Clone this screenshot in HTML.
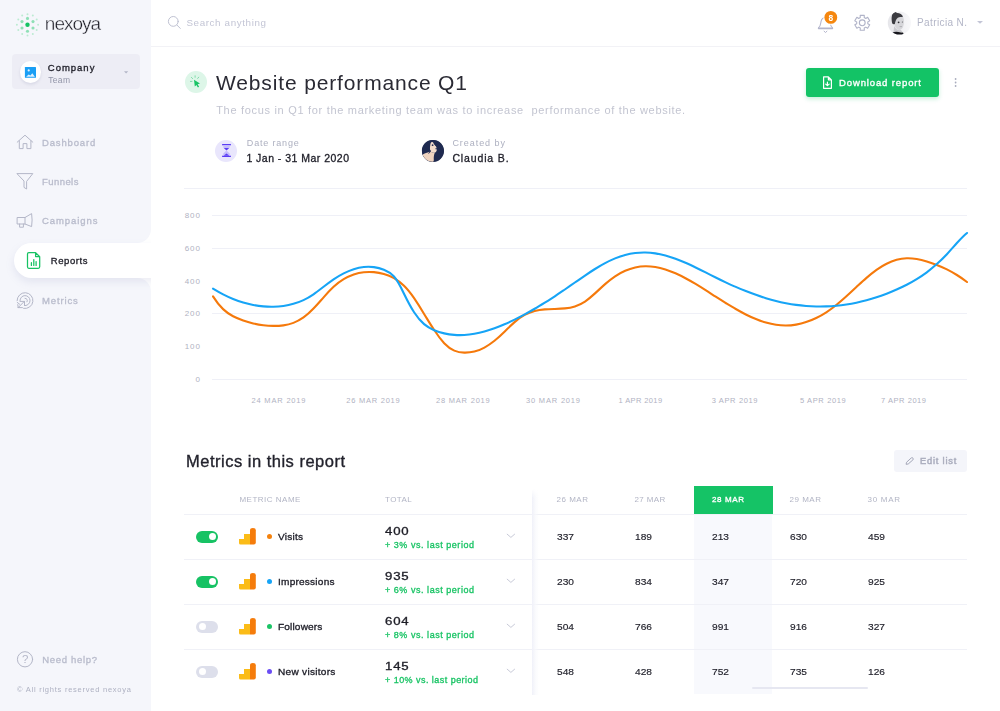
<!DOCTYPE html>
<html lang="en">
<head>
<meta charset="utf-8">
<title>nexoya - Website performance Q1</title>
<style>
*{box-sizing:border-box;margin:0;padding:0}
html,body{width:1000px;height:711px;overflow:hidden;background:#fff}
body{font-family:"Liberation Sans",sans-serif;color:#23232e;position:relative}
#texts{position:absolute;left:0;top:0;width:1000px;height:711px;will-change:transform}
.abs{position:absolute}
.t{position:absolute;white-space:pre;line-height:1}
svg{overflow:visible}

/* sidebar */
#sb-top{position:absolute;left:0;top:0;width:151px;height:243px;background:#f5f6fb;border-bottom-right-radius:14px}
#sb-bot{position:absolute;left:0;top:278px;width:151px;height:433px;background:#f5f6fb;border-top-right-radius:14px}
#sb-mid{position:absolute;left:0;top:243px;width:151px;height:35px;background:#f5f6fb}
#active-wrap{position:absolute;left:0;top:226px;width:151px;height:80px;overflow:hidden}
#active{position:absolute;left:14px;top:17px;width:170px;height:35px;background:#fff;border-radius:17.5px 0 0 17.5px;box-shadow:0 4px 9px rgba(130,135,180,.15)}
#company{position:absolute;left:11.5px;top:54.4px;width:128.8px;height:34.4px;background:#ededf5;border-radius:4px}
#company-ic{position:absolute;left:19.5px;top:61.3px;width:21.8px;height:21.8px;border-radius:50%;background:#fff;box-shadow:0 1.5px 3px rgba(100,105,150,.16)}

/* header */
#hdr-line{position:absolute;left:151px;top:46px;width:849px;height:1px;background:#f2f2f6}

/* title */
#dl-btn{position:absolute;left:806px;top:68px;width:133px;height:29px;border-radius:3px;background:#13c366;box-shadow:0 2px 4px rgba(19,195,102,.25)}
#edit-btn{position:absolute;left:894px;top:450px;width:73px;height:22px;border-radius:3px;background:#f4f5fa}
.circ{position:absolute;border-radius:50%}

/* table */
.hl{position:absolute;left:184px;width:783px;height:1px;background:#f0f1f7}
#col-hl{position:absolute;left:694px;top:514px;width:78px;height:180px;background:#f8f9fd}
#col-hd{position:absolute;left:694px;top:486px;width:79px;height:28px;background:#15c366}
#pane-shadow{position:absolute;left:532px;top:489px;width:7px;height:206px;background:linear-gradient(to right,rgba(240,241,249,1),rgba(247,248,252,.7) 45%,rgba(255,255,255,0));-webkit-mask-image:linear-gradient(to bottom,transparent,#000 9px);mask-image:linear-gradient(to bottom,transparent,#000 9px)}
.tg{position:absolute;left:196px;width:22px;height:12px;border-radius:6px}
.tg i{position:absolute;top:2.5px;width:7px;height:7px;border-radius:50%;background:#fff}
.tg.on{background:#17c264}.tg.on i{left:13px}
.tg.off{background:#dddfeb}.tg.off i{left:2.5px}
.dot{position:absolute;left:267px;width:5px;height:5px;border-radius:50%}
#scroll{position:absolute;left:752px;top:687px;width:116px;height:2px;border-radius:1px;background:#e6e7f1}
</style>
</head>
<body>

<!-- SIDEBAR BACKGROUND -->
<div id="sb-top"></div>
<div id="sb-bot"></div>
<div id="sb-mid"></div>
<div id="active-wrap"><div id="active"></div></div>
<div id="company"></div>
<div id="company-ic"></div>

<!-- HEADER -->
<div id="hdr-line"></div>

<!-- TITLE AREA -->
<div class="circ" style="left:185px;top:71px;width:22px;height:22px;background:#ddf6e8"></div>
<div class="circ" style="left:215px;top:139.5px;width:22px;height:22px;background:#e9e6fc"></div>
<div class="circ" id="avatar2" style="left:421.5px;top:139.5px;width:22px;height:22px;background:#27304f;overflow:hidden"></div>
<div id="dl-btn"></div>
<div id="edit-btn"></div>

<!-- TABLE SHAPES -->
<div id="col-hl"></div>
<div id="col-hd"></div>
<div class="hl" style="top:514px"></div>
<div class="hl" style="top:559px"></div>
<div class="hl" style="top:604px"></div>
<div class="hl" style="top:649px"></div>
<div id="pane-shadow"></div>
<div id="scroll"></div>

<div class="tg on" style="top:530.5px"><i></i></div>
<div class="tg on" style="top:575.5px"><i></i></div>
<div class="tg off" style="top:620.5px"><i></i></div>
<div class="tg off" style="top:665.5px"><i></i></div>

<div class="dot" style="top:534px;background:#f5820d"></div>
<div class="dot" style="top:579px;background:#16a4f6"></div>
<div class="dot" style="top:624px;background:#1bc466"></div>
<div class="dot" style="top:669px;background:#6a4df4"></div>

<!-- CHART -->
<svg id="chart" class="abs" style="left:0;top:0" width="1000" height="420" viewBox="0 0 1000 420">
<g stroke="#eff0f7" stroke-width="1" shape-rendering="crispEdges">
<line x1="184" y1="188.5" x2="967" y2="188.5"/>
<line x1="212" y1="215.5" x2="967" y2="215.5"/>
<line x1="212" y1="248.5" x2="967" y2="248.5"/>
<line x1="212" y1="313.5" x2="967" y2="313.5"/>
<line x1="212" y1="379.5" x2="967" y2="379.5"/>
</g>
<g font-family="'Liberation Sans',sans-serif" font-size="8" fill="#b0b2c2">
<text x="184.7" y="218.3" textLength="15.3" lengthAdjust="spacing">800</text>
<text x="184.7" y="251.0" textLength="15.3" lengthAdjust="spacing">600</text>
<text x="184.7" y="283.7" textLength="15.3" lengthAdjust="spacing">400</text>
<text x="184.7" y="316.3" textLength="15.3" lengthAdjust="spacing">200</text>
<text x="184.7" y="349.0" textLength="15.3" lengthAdjust="spacing">100</text>
<text x="195.5" y="381.6" textLength="5" lengthAdjust="spacing">0</text>
<text x="251.5" y="403.2" font-size="7.5" textLength="54" lengthAdjust="spacing">24 MAR 2019</text>
<text x="346.2" y="403.2" font-size="7.5" textLength="53.5" lengthAdjust="spacing">26 MAR 2019</text>
<text x="436" y="403.2" font-size="7.5" textLength="53.7" lengthAdjust="spacing">28 MAR 2019</text>
<text x="526" y="403.2" font-size="7.5" textLength="54" lengthAdjust="spacing">30 MAR 2019</text>
<text x="618.5" y="403.2" font-size="7.5" textLength="43.6" lengthAdjust="spacing">1 APR 2019</text>
<text x="711.7" y="403.2" font-size="7.5" textLength="45.8" lengthAdjust="spacing">3 APR 2019</text>
<text x="800" y="403.2" font-size="7.5" textLength="45.7" lengthAdjust="spacing">5 APR 2019</text>
<text x="881" y="403.2" font-size="7.5" textLength="45" lengthAdjust="spacing">7 APR 2019</text>
</g>
<path d="M213.0,296.42C216.4,301.87 219.7,305.96 223.1,309.12C226.4,312.28 229.8,314.52 233.1,316.27C236.5,318.02 239.8,319.31 243.2,320.48C246.5,321.65 249.9,322.63 253.2,323.42C256.6,324.22 259.9,324.82 263.3,325.23C266.6,325.65 270.0,325.87 273.3,325.90C276.7,325.93 280.0,325.79 283.4,325.35C286.7,324.90 290.1,324.13 293.4,322.88C296.8,321.63 300.1,319.88 303.5,317.48C306.8,315.07 310.2,311.99 313.5,308.53C316.9,305.06 320.2,301.19 323.6,297.38C326.9,293.56 330.3,289.85 333.6,286.79C337.0,283.73 340.3,281.23 343.7,279.21C347.0,277.19 350.4,275.64 353.7,274.49C357.1,273.34 360.4,272.60 363.8,272.23C367.2,271.85 370.5,271.84 373.9,272.15C377.2,272.45 380.6,273.05 383.9,273.98C387.3,274.92 390.6,276.22 394.0,278.12C397.3,280.01 400.7,282.50 404.0,285.80C407.4,289.09 410.7,293.30 414.1,298.16C417.4,303.02 420.8,308.46 424.1,313.95C427.5,319.43 430.8,324.96 434.2,330.02C437.5,335.08 440.9,339.65 444.2,343.22C447.6,346.79 450.9,349.21 454.3,350.63C457.6,352.05 461.0,352.56 464.3,352.62C467.7,352.69 471.0,352.38 474.4,351.57C477.7,350.76 481.1,349.40 484.4,347.57C487.8,345.74 491.1,343.43 494.5,340.75C497.8,338.08 501.2,334.98 504.5,331.72C507.9,328.47 511.2,325.11 514.6,322.15C518.0,319.20 521.3,316.72 524.7,314.91C528.0,313.10 531.4,311.87 534.7,311.02C538.1,310.17 541.4,309.70 544.8,309.42C548.1,309.14 551.5,309.05 554.8,308.95C558.2,308.85 561.5,308.74 564.9,308.39C568.2,308.04 571.6,307.44 574.9,306.38C578.3,305.31 581.6,303.77 585.0,301.53C588.3,299.30 591.7,296.42 595.0,293.37C598.4,290.31 601.7,287.07 605.1,284.10C608.4,281.13 611.8,278.50 615.1,276.28C618.5,274.07 621.8,272.25 625.2,270.79C628.5,269.33 631.9,268.24 635.2,267.50C638.6,266.76 641.9,266.37 645.3,266.30C648.6,266.24 652.0,266.51 655.3,267.05C658.7,267.60 662.0,268.43 665.4,269.49C668.8,270.55 672.1,271.85 675.5,273.32C678.8,274.80 682.2,276.45 685.5,278.25C688.9,280.04 692.2,281.96 695.6,283.97C698.9,285.98 702.3,288.08 705.6,290.21C709.0,292.34 712.3,294.50 715.7,296.65C719.0,298.80 722.4,300.93 725.7,303.01C729.1,305.08 732.4,307.10 735.8,309.02C739.1,310.94 742.5,312.76 745.8,314.45C749.2,316.13 752.5,317.68 755.9,319.05C759.2,320.42 762.6,321.62 765.9,322.59C769.3,323.57 772.6,324.33 776.0,324.83C779.3,325.34 782.7,325.58 786.0,325.55C789.4,325.51 792.7,325.21 796.1,324.64C799.4,324.06 802.8,323.22 806.1,322.11C809.5,321.00 812.8,319.63 816.2,317.99C819.6,316.35 822.9,314.45 826.3,312.28C829.6,310.11 833.0,307.68 836.3,304.99C839.7,302.30 843.0,299.36 846.4,296.30C849.7,293.25 853.1,290.09 856.4,286.96C859.8,283.83 863.1,280.74 866.5,277.84C869.8,274.93 873.2,272.21 876.5,269.81C879.9,267.42 883.2,265.37 886.6,263.70C889.9,262.03 893.3,260.72 896.6,259.82C900.0,258.91 903.3,258.40 906.7,258.30C910.0,258.20 913.4,258.48 916.7,259.04C920.1,259.61 923.4,260.44 926.8,261.45C930.1,262.46 933.5,263.62 936.8,264.93C940.2,266.24 943.5,267.71 946.9,269.37C950.2,271.04 953.6,272.90 956.9,274.99C960.3,277.08 963.6,279.41 967.0,282.00" fill="none" stroke="#f5790b" stroke-width="2.1" stroke-linecap="round" stroke-linejoin="round"/>
<path d="M213.0,288.69C216.4,290.78 219.7,292.68 223.1,294.40C226.4,296.11 229.8,297.65 233.1,299.01C236.5,300.36 239.8,301.54 243.2,302.54C246.5,303.53 249.9,304.35 253.2,304.99C256.6,305.63 259.9,306.09 263.3,306.37C266.6,306.65 270.0,306.76 273.3,306.69C276.7,306.61 280.0,306.38 283.4,305.92C286.7,305.46 290.1,304.79 293.4,303.84C296.8,302.88 300.1,301.65 303.5,300.08C306.8,298.51 310.2,296.59 313.5,294.30C316.9,292.00 320.2,289.38 323.6,286.76C326.9,284.15 330.3,281.59 333.6,279.32C337.0,277.06 340.3,275.05 343.7,273.34C347.0,271.63 350.4,270.22 353.7,269.15C357.1,268.08 360.4,267.34 363.8,266.99C367.2,266.63 370.5,266.65 373.9,267.10C377.2,267.54 380.6,268.40 383.9,269.72C387.3,271.04 390.6,272.81 394.0,276.52C397.3,280.23 400.7,286.74 404.0,293.73C407.4,300.72 410.7,307.10 414.1,312.21C417.4,317.31 420.8,321.27 424.1,324.14C427.5,327.01 430.8,328.80 434.2,330.18C437.5,331.55 440.9,332.58 444.2,333.36C447.6,334.14 450.9,334.64 454.3,334.90C457.6,335.16 461.0,335.18 464.3,334.98C467.7,334.79 471.0,334.39 474.4,333.80C477.7,333.22 481.1,332.45 484.4,331.53C487.8,330.61 491.1,329.53 494.5,328.32C497.8,327.11 501.2,325.77 504.5,324.31C507.9,322.85 511.2,321.29 514.6,319.63C518.0,317.97 521.3,316.23 524.7,314.42C528.0,312.60 531.4,310.71 534.7,308.76C538.1,306.80 541.4,304.78 544.8,302.69C548.1,300.61 551.5,298.46 554.8,296.26C558.2,294.06 561.5,291.80 564.9,289.50C568.2,287.19 571.6,284.84 574.9,282.50C578.3,280.16 581.6,277.82 585.0,275.56C588.3,273.29 591.7,271.09 595.0,269.01C598.4,266.93 601.7,264.96 605.1,263.18C608.4,261.39 611.8,259.78 615.1,258.39C618.5,257.01 621.8,255.87 625.2,254.98C628.5,254.09 631.9,253.45 635.2,253.05C638.6,252.66 641.9,252.49 645.3,252.56C648.6,252.62 652.0,252.90 655.3,253.40C658.7,253.90 662.0,254.62 665.4,255.52C668.8,256.42 672.1,257.51 675.5,258.74C678.8,259.96 682.2,261.33 685.5,262.80C688.9,264.26 692.2,265.83 695.6,267.44C698.9,269.06 702.3,270.74 705.6,272.42C709.0,274.11 712.3,275.80 715.7,277.47C719.0,279.14 722.4,280.77 725.7,282.34C729.1,283.91 732.4,285.43 735.8,286.89C739.1,288.35 742.5,289.75 745.8,291.08C749.2,292.40 752.5,293.66 755.9,294.84C759.2,296.02 762.6,297.13 765.9,298.15C769.3,299.17 772.6,300.10 776.0,300.94C779.3,301.78 782.7,302.53 786.0,303.18C789.4,303.83 792.7,304.39 796.1,304.84C799.4,305.30 802.8,305.66 806.1,305.93C809.5,306.20 812.8,306.36 816.2,306.44C819.6,306.51 822.9,306.49 826.3,306.37C829.6,306.25 833.0,306.03 836.3,305.72C839.7,305.40 843.0,304.99 846.4,304.48C849.7,303.98 853.1,303.37 856.4,302.67C859.8,301.97 863.1,301.17 866.5,300.27C869.8,299.38 873.2,298.38 876.5,297.29C879.9,296.20 883.2,295.01 886.6,293.73C889.9,292.44 893.3,291.06 896.6,289.57C900.0,288.09 903.3,286.51 906.7,284.78C910.0,283.05 913.4,281.18 916.7,279.12C920.1,277.05 923.4,274.80 926.8,272.31C930.1,269.82 933.5,267.09 936.8,264.09C940.2,261.08 943.5,257.79 946.9,254.19C950.2,250.58 953.6,246.69 956.9,243.01C960.3,239.32 963.6,235.83 967.0,233.03" fill="none" stroke="#16a4f6" stroke-width="2.1" stroke-linecap="round" stroke-linejoin="round"/>
</svg>

<!-- ICONS -->
<svg id="icons" class="abs" style="left:0;top:0" width="1000" height="711" viewBox="0 0 1000 711" fill="none">
<!-- logo -->
<g id="logo" transform="translate(27.5 24.8)">
<circle r="2.2" fill="#16c264"/>
<g fill="#8fe0b6"><circle cx="0" cy="-6.4" r="1.55"/><circle cx="5.5" cy="-3.2" r="1.55"/><circle cx="5.5" cy="3.2" r="1.55"/><circle cx="0" cy="6.4" r="1.55"/><circle cx="-5.5" cy="3.2" r="1.55"/><circle cx="-5.5" cy="-3.2" r="1.55"/></g>
<g fill="#bcebd2"><circle cx="0" cy="-10.6" r="1"/><circle cx="5.3" cy="-9.2" r="1"/><circle cx="9.2" cy="-5.3" r="1"/><circle cx="10.6" cy="0" r="1"/><circle cx="9.2" cy="5.3" r="1"/><circle cx="5.3" cy="9.2" r="1"/><circle cx="0" cy="10.6" r="1"/><circle cx="-5.3" cy="9.2" r="1"/><circle cx="-9.2" cy="5.3" r="1"/><circle cx="-10.6" cy="0" r="1"/><circle cx="-9.2" cy="-5.3" r="1"/><circle cx="-5.3" cy="-9.2" r="1"/></g>
</g>
<!-- company picture icon -->
<rect x="24.9" y="67.1" width="11.1" height="10.7" rx=".5" fill="#1a9ff5"/>
<path d="M26.1,76.7 L28.7,74.4 L30.4,75.6 L32.3,73.2 L34.9,76.7 Z" fill="#dff1ff"/>
<circle cx="28.7" cy="70.4" r="1.1" fill="#dff1ff"/>
<path d="M124,71.3 h4.2 l-2.1,2.3 z" fill="#b3b6c7"/>
<!-- nav icons -->
<g stroke="#b4b7c8" stroke-width="1" stroke-linejoin="round" stroke-linecap="round">
<path d="M17.2,142.2 L25,135.2 L32.8,142.2 M19.3,140.8 V148.6 H23.1 V143.6 H26.9 V148.6 H30.9 V140.8"/>
<path d="M17.3,173.6 H32.8 L26.6,181.4 V189 L24,187.4 V181.4 Z"/>
<path d="M17.5,217.5 H25 L31.6,213.6 Q32.6,220 31.6,226.6 L25,224 H17.5 Z M25,217.5 V224 M19.6,224 V227.2 H23.4 V224"/>
<!-- metrics/target -->
<path d="M17.1,300.6 A7.9,7.9 0 1 1 23.6,308.4"/>
<path d="M20,300.6 A5,5 0 1 1 25.4,305.6"/>
<path d="M25,298.3 A2.3,2.3 0 0 1 27,301.8"/>
<path d="M18.2,307.6 L24.5,301.2 M20,301.4 H24.5 V305.6 M17.2,302.4 L19.6,304.2 M18.2,307.6 L22.4,307.6 M18.2,307.6 L17.8,304.6"/>
<!-- help -->
<circle cx="25" cy="659.3" r="7.6"/>
</g>
<!-- report icon (active) -->
<g stroke="#17c263" stroke-width="1.25" stroke-linejoin="round" stroke-linecap="round">
<path d="M28.8,252.6 H35.6 L39.7,256.7 V266.8 Q39.7,268.3 38.2,268.3 H28.8 Q27.5,268.3 27.5,266.8 V254 Q27.5,252.6 28.8,252.6 Z M35.6,252.8 V256.6 H39.5"/>
<path d="M31.4,262.7 V265.4 M33.8,259.6 V265.4 M36.1,261.6 V265.4"/>
</g>
<!-- search -->
<g stroke="#bfc2d2" stroke-width="1" stroke-linecap="round"><circle cx="173.3" cy="21.4" r="4.9"/><path d="M176.9,25 L180.3,28.4"/></g>
<!-- bell -->
<g stroke="#b3b5cc" stroke-linecap="round" stroke-linejoin="round">
<path stroke-width="1.1" d="M818.5,27.9 C820.7,26 820.7,23.4 821,21.6 C821.5,19 823.1,17.4 825.5,17.2 C827.9,17.4 829.5,19 830,21.6 C830.3,23.4 830.3,26 832.5,27.9"/>
<path stroke-width="1.6" d="M818.6,28.4 H832.4"/>
<path stroke-width="1" d="M824.1,31.2 L825.5,32.5 L826.9,31.2"/>
</g>
<circle cx="830.8" cy="17.4" r="7.4" fill="#fff"/>
<circle cx="830.8" cy="17.4" r="6.4" fill="#f5870f"/>
<!-- gear -->
<g stroke="#b0b3c8" stroke-width="1.1" stroke-linejoin="round">
<circle cx="862.25" cy="22.8" r="2.9"/>
<path d="M860.28,17.56 L860.20,15.38 L864.30,15.38 L864.22,17.56 L865.80,18.47 L867.65,17.31 L869.70,20.87 L867.78,21.89 L867.78,23.71 L869.70,24.73 L867.65,28.29 L865.80,27.13 L864.22,28.04 L864.30,30.22 L860.20,30.22 L860.28,28.04 L858.70,27.13 L856.85,28.29 L854.80,24.73 L856.72,23.71 L856.72,21.89 L854.80,20.87 L856.85,17.31 L858.70,18.47 Z"/>
</g>
<!-- caret user -->
<path d="M977,21 h6 l-3,2.8 z" fill="#c3c5d6"/>
<!-- avatar 1 -->
<g id="av1">
<clipPath id="c1"><circle cx="899.4" cy="23" r="11.6"/></clipPath>
<linearGradient id="g1" x1="0" x2="1" y1="0" y2="0"><stop offset="0" stop-color="#e6e6ea"/><stop offset="1" stop-color="#f8f8fa"/></linearGradient>
<filter id="b1" x="-20%" y="-20%" width="140%" height="140%"><feGaussianBlur stdDeviation=".5"/></filter>
<circle cx="899.4" cy="23" r="11.6" fill="url(#g1)"/>
<g clip-path="url(#c1)"><g filter="url(#b1)">
<path d="M895.2,17.6 C896.6,15.8 900.6,15.6 903.2,17 C904.2,19.6 904.2,23.4 903.2,26.6 C902.4,28.8 900.6,30.2 898.8,30 C896.6,29.6 894.8,27.2 894.4,24 C894.2,21.4 894.2,19.2 895.2,17.6 Z" fill="#d6d6da"/>
<path d="M894.2,26 C895.4,28.4 897,30 899,30.2 L901,30 L902.4,32 L893.4,32.4 Z" fill="#c9c9ce"/>
<path d="M892.2,23.2 C891.2,19.2 891.4,14.6 893.6,12.8 C894.6,11.6 896.4,11.8 896.8,13 C899.4,12.8 902.4,14.6 903,16.8 C901.2,17 899.4,17 897.8,17.8 C895.8,19 895.4,21.6 894.8,24 C893.6,24.4 892.6,24.2 892.2,23.2 Z" fill="#3a3a3f"/>
<circle cx="898.6" cy="22.3" r=".9" fill="#2e2e33"/>
<circle cx="902.4" cy="22" r=".6" fill="#55555a"/>
<path d="M899.6,26.6 H902" stroke="#a5a5aa" stroke-width=".8"/>
<path d="M892.6,32.4 C894.6,31.4 898,31.6 900,32.2 C901.4,32.6 902.6,32 903.4,33 L903.4,35 H892.6 Z" fill="#18181c"/>
</g></g>
</g>
<!-- title icon cursor -->
<path d="M194,79.7 L200,83.4 L197.6,84.2 L199.1,86.8 L197.9,87.4 L196.4,84.9 L194.8,86.6 Z" fill="#19c465"/>
<g stroke="#7fdcaa" stroke-width="1" stroke-linecap="round"><path d="M191.4,77.4 l1.2,1.2 M195.1,75.8 v1.5 M198.7,77.2 l-1,1.2 M190.4,81.4 h1.6"/></g>
<!-- hourglass -->
<g>
<rect x="222.1" y="144" width="8.8" height="1.3" fill="#5a3cf5"/>
<rect x="222.1" y="155.7" width="8.8" height="1.3" fill="#5a3cf5"/>
<path d="M223.3,145.3 H229.7 V147.4 L226.5,150.5 L223.3,147.4 Z" fill="#c6bdfb"/>
<path d="M223.9,148 H229.1 L226.5,150.6 Z" fill="#5a3cf5"/>
<path d="M223.3,155.7 H229.7 V153.6 L226.5,150.5 L223.3,153.6 Z" fill="#c6bdfb"/>
<path d="M223.6,155.7 H229.4 L226.5,153.6 Z" fill="#5a3cf5"/>
</g>
<!-- avatar 2 -->
<g id="av2">
<clipPath id="c2"><circle cx="432.8" cy="150.8" r="10.9"/></clipPath>
<filter id="b2" x="-20%" y="-20%" width="140%" height="140%"><feGaussianBlur stdDeviation=".45"/></filter>
<circle cx="432.8" cy="150.8" r="10.9" fill="#1f2a50"/>
<g clip-path="url(#c2)"><g filter="url(#b2)">
<path d="M431.4,142.2 C433,141.8 434.2,142.8 434.8,144.4 C435.8,146 437,147.8 436.8,149.6 C436.8,151 436.2,152 435.2,152.6 C433.8,153.1 432,152.8 431,152 C429.8,150.6 429.8,147.6 430.2,145.4 C430.4,144 430.6,142.8 431.4,142.2 Z" fill="#f3dccb"/>
<path d="M430.4,151.6 C431.8,152.6 433.4,153 434.8,152.8 C434,154.8 433.6,157 433.8,159.6 C433.9,161 433.4,162.2 432.6,162.6 L427,162.6 C424.4,160.4 422.4,157 422.8,154.4 C425,153 428.6,152.8 430.4,151.6 Z" fill="#efd3bf"/>
<path d="M433,141.8 C434.8,142.6 436,144.2 436.6,146.2 C435,145.8 433.6,144.4 433,141.8 Z" fill="#1f2a50"/>
<circle cx="432.6" cy="145.2" r=".9" fill="#2a3358"/>
<circle cx="436.2" cy="148.8" r=".8" fill="#2a3358"/>
<path d="M428.6,153.6 C429.6,152.6 430.4,151.8 430.6,150.4" stroke="#27305a" stroke-width="1" fill="none"/>
</g></g>
</g>
<!-- download doc icon -->
<g stroke="#fff" stroke-width="1.2" stroke-linejoin="round" stroke-linecap="round">
<path d="M823.6,76.8 H828.4 L831.4,79.8 V88.3 H823.6 Z M828.4,77 V79.8 H831.2"/>
<path d="M827.4,82.2 V85.4 M825.7,84.1 L827.4,85.6 L829.2,84.1"/>
</g>
<!-- kebab -->
<g fill="#a9acbd"><circle cx="955.6" cy="79" r=".9"/><circle cx="955.6" cy="82.5" r=".9"/><circle cx="955.6" cy="86" r=".9"/></g>
<!-- pencil -->
<path d="M906.1,464.3 L906.5,462.3 L911.3,457.9 Q912.3,457.3 913,458.2 Q913.7,459.1 912.9,459.9 L908.2,464 Z" stroke="#9fa2b4" stroke-width=".95" stroke-linejoin="round"/>
<!-- GA icons + chevrons -->
<g id="rowicons"><path d="M250,530.2 Q250,528 252.9,528 Q255.8,528 255.8,530.2 V542.6 Q255.8,544.5 253.9,544.5 H250 Z" fill="#f57c0b"/><path d="M244,534 H250 V544.5 H240.6 Q239,544.5 239,542.9 V538.9 H244 Z" fill="#fbbc18"/><path d="M507.2,534.2 L510.9,537.4 L514.6,534.2" stroke="#c8cad8" stroke-width="1" stroke-linecap="round" stroke-linejoin="round"/><path d="M250,575.2 Q250,573 252.9,573 Q255.8,573 255.8,575.2 V587.6 Q255.8,589.5 253.9,589.5 H250 Z" fill="#f57c0b"/><path d="M244,579 H250 V589.5 H240.6 Q239,589.5 239,587.9 V583.9 H244 Z" fill="#fbbc18"/><path d="M507.2,579.2 L510.9,582.4 L514.6,579.2" stroke="#c8cad8" stroke-width="1" stroke-linecap="round" stroke-linejoin="round"/><path d="M250,620.2 Q250,618 252.9,618 Q255.8,618 255.8,620.2 V632.6 Q255.8,634.5 253.9,634.5 H250 Z" fill="#f57c0b"/><path d="M244,624 H250 V634.5 H240.6 Q239,634.5 239,632.9 V628.9 H244 Z" fill="#fbbc18"/><path d="M507.2,624.2 L510.9,627.4 L514.6,624.2" stroke="#c8cad8" stroke-width="1" stroke-linecap="round" stroke-linejoin="round"/><path d="M250,665.2 Q250,663 252.9,663 Q255.8,663 255.8,665.2 V677.6 Q255.8,679.5 253.9,679.5 H250 Z" fill="#f57c0b"/><path d="M244,669 H250 V679.5 H240.6 Q239,679.5 239,677.9 V673.9 H244 Z" fill="#fbbc18"/><path d="M507.2,669.2 L510.9,672.4 L514.6,669.2" stroke="#c8cad8" stroke-width="1" stroke-linecap="round" stroke-linejoin="round"/></g>
</svg>


<!-- TEXT -->
<div id="texts">
<div class="t" style="left:44.8px;top:13.72px;font-size:19px;font-weight:400;color:#1d1d26;-webkit-text-stroke:0.38px #f5f6fb;letter-spacing:-0.976px;">nexoya</div>
<div class="t" style="left:47.8px;top:62.76px;font-size:9.5px;font-weight:400;color:#1f1f29;-webkit-text-stroke:.32px currentColor;letter-spacing:0.988px;">Company</div>
<div class="t" style="left:48.2px;top:75.60px;font-size:8.5px;font-weight:400;color:#9295a8;letter-spacing:0.334px;">Team</div>
<div class="t" style="left:42.0px;top:137.76px;font-size:9.5px;font-weight:400;color:#b9bccc;-webkit-text-stroke:.32px currentColor;letter-spacing:0.839px;">Dashboard</div>
<div class="t" style="left:42.0px;top:176.76px;font-size:9.5px;font-weight:400;color:#b9bccc;-webkit-text-stroke:.32px currentColor;letter-spacing:0.431px;">Funnels</div>
<div class="t" style="left:42.0px;top:215.96px;font-size:9.5px;font-weight:400;color:#b9bccc;-webkit-text-stroke:.32px currentColor;letter-spacing:0.930px;">Campaigns</div>
<div class="t" style="left:50.8px;top:255.66px;font-size:9.5px;font-weight:400;color:#1f1f29;-webkit-text-stroke:.32px currentColor;letter-spacing:0.572px;">Reports</div>
<div class="t" style="left:42.0px;top:295.86px;font-size:9.5px;font-weight:400;color:#b9bccc;-webkit-text-stroke:.32px currentColor;letter-spacing:0.862px;">Metrics</div>
<div class="t" style="left:42.2px;top:654.66px;font-size:9.5px;font-weight:400;color:#b9bccc;-webkit-text-stroke:.32px currentColor;letter-spacing:0.688px;">Need help?</div>
<div class="t" style="left:21.9px;top:653.67px;font-size:11.5px;font-weight:400;color:#b4b7c8;">?</div>
<div class="t" style="left:17.0px;top:685.65px;font-size:7.5px;font-weight:400;color:#aeb1c2;letter-spacing:0.759px;">© All rights reserved nexoya</div>
<div class="t" style="left:186.4px;top:18.40px;font-size:9.8px;font-weight:400;color:#c3c5d5;letter-spacing:0.628px;">Search anything</div>
<div class="t" style="left:917.0px;top:17.54px;font-size:10px;font-weight:400;color:#b3b6c7;letter-spacing:0.388px;">Patricia N.</div>
<div class="t" style="left:828.6px;top:13.69px;font-size:8.4px;font-weight:700;color:#ffffff;">8</div>
<div class="t" style="left:216.0px;top:72.02px;font-size:21px;font-weight:400;color:#2a2a34;letter-spacing:0.854px;">Website performance Q1</div>
<div class="t" style="left:216.2px;top:105.19px;font-size:11px;font-weight:400;color:#c3c5d1;letter-spacing:0.694px;">The focus in Q1 for the marketing team was to increase&nbsp; performance of the website.</div>
<div class="t" style="left:246.8px;top:138.68px;font-size:9px;font-weight:400;color:#adb0c0;letter-spacing:0.830px;">Date range</div>
<div class="t" style="left:246.4px;top:152.71px;font-size:10.5px;font-weight:400;color:#1f1f29;-webkit-text-stroke:.32px currentColor;letter-spacing:0.479px;">1 Jan - 31 Mar 2020</div>
<div class="t" style="left:452.4px;top:138.68px;font-size:9px;font-weight:400;color:#adb0c0;letter-spacing:0.952px;">Created by</div>
<div class="t" style="left:452.4px;top:152.91px;font-size:10.5px;font-weight:400;color:#1f1f29;-webkit-text-stroke:.32px currentColor;letter-spacing:0.861px;">Claudia B.</div>
<div class="t" style="left:839.0px;top:77.96px;font-size:9.5px;font-weight:400;color:#ffffff;-webkit-text-stroke:.32px currentColor;letter-spacing:0.877px;">Download report</div>
<div class="t" style="left:186.4px;top:453.99px;font-size:15.6px;font-weight:400;color:#22222c;-webkit-text-stroke:.32px currentColor;letter-spacing:0.458px;transform:scaleX(1.06);transform-origin:0 0;">Metrics in this report</div>
<div class="t" style="left:920.0px;top:456.83px;font-size:9.3px;font-weight:400;color:#a9acbd;-webkit-text-stroke:.45px currentColor;letter-spacing:0.804px;">Edit list</div>
<div class="t" style="left:239.4px;top:495.83px;font-size:8px;font-weight:400;color:#b2b5c5;letter-spacing:0.500px;">METRIC NAME</div>
<div class="t" style="left:385.0px;top:495.83px;font-size:8px;font-weight:400;color:#b2b5c5;letter-spacing:0.388px;">TOTAL</div>
<div class="t" style="left:556.6px;top:495.83px;font-size:8px;font-weight:400;color:#b2b5c5;letter-spacing:0.499px;">26 MAR</div>
<div class="t" style="left:634.4px;top:495.83px;font-size:8px;font-weight:400;color:#b2b5c5;letter-spacing:0.419px;">27 MAR</div>
<div class="t" style="left:712.0px;top:495.83px;font-size:8px;font-weight:400;color:#ffffff;-webkit-text-stroke:.32px currentColor;letter-spacing:0.619px;">28 MAR</div>
<div class="t" style="left:789.5px;top:495.83px;font-size:8px;font-weight:400;color:#b2b5c5;letter-spacing:0.519px;">29 MAR</div>
<div class="t" style="left:867.5px;top:495.83px;font-size:8px;font-weight:400;color:#b2b5c5;letter-spacing:0.719px;">30 MAR</div>
<div class="t" style="left:278.0px;top:531.87px;font-size:9.6px;font-weight:400;color:#1f1f29;-webkit-text-stroke:.32px currentColor;letter-spacing:0.212px;transform:scaleX(1.05);transform-origin:0 0;">Visits</div>
<div class="t" style="left:385.0px;top:526.09px;font-size:11px;font-weight:400;color:#1d1d26;-webkit-text-stroke:.32px currentColor;letter-spacing:0.654px;transform:scaleX(1.2);transform-origin:0 0;">400</div>
<div class="t" style="left:385.0px;top:541.38px;font-size:9px;font-weight:400;color:#1bc466;-webkit-text-stroke:.32px currentColor;letter-spacing:0.537px;">+ 3% vs. last period</div>
<div class="t" style="left:557.0px;top:531.87px;font-size:9.6px;font-weight:400;color:#1f1f29;-webkit-text-stroke:.16px currentColor;letter-spacing:0.011px;transform:scaleX(1.06);transform-origin:0 0;">337</div>
<div class="t" style="left:635.0px;top:531.87px;font-size:9.6px;font-weight:400;color:#1f1f29;-webkit-text-stroke:.16px currentColor;letter-spacing:0.011px;transform:scaleX(1.06);transform-origin:0 0;">189</div>
<div class="t" style="left:712.4px;top:531.87px;font-size:9.6px;font-weight:400;color:#1f1f29;-webkit-text-stroke:.16px currentColor;letter-spacing:0.011px;transform:scaleX(1.06);transform-origin:0 0;">213</div>
<div class="t" style="left:790.4px;top:531.87px;font-size:9.6px;font-weight:400;color:#1f1f29;-webkit-text-stroke:.16px currentColor;letter-spacing:0.011px;transform:scaleX(1.06);transform-origin:0 0;">630</div>
<div class="t" style="left:868.0px;top:531.87px;font-size:9.6px;font-weight:400;color:#1f1f29;-webkit-text-stroke:.16px currentColor;letter-spacing:0.011px;transform:scaleX(1.06);transform-origin:0 0;">459</div>
<div class="t" style="left:278.0px;top:576.87px;font-size:9.6px;font-weight:400;color:#1f1f29;-webkit-text-stroke:.32px currentColor;letter-spacing:0.209px;transform:scaleX(1.05);transform-origin:0 0;">Impressions</div>
<div class="t" style="left:385.0px;top:571.09px;font-size:11px;font-weight:400;color:#1d1d26;-webkit-text-stroke:.32px currentColor;letter-spacing:0.654px;transform:scaleX(1.2);transform-origin:0 0;">935</div>
<div class="t" style="left:385.0px;top:586.38px;font-size:9px;font-weight:400;color:#1bc466;-webkit-text-stroke:.32px currentColor;letter-spacing:0.537px;">+ 6% vs. last period</div>
<div class="t" style="left:557.0px;top:576.87px;font-size:9.6px;font-weight:400;color:#1f1f29;-webkit-text-stroke:.16px currentColor;letter-spacing:0.011px;transform:scaleX(1.06);transform-origin:0 0;">230</div>
<div class="t" style="left:635.0px;top:576.87px;font-size:9.6px;font-weight:400;color:#1f1f29;-webkit-text-stroke:.16px currentColor;letter-spacing:0.011px;transform:scaleX(1.06);transform-origin:0 0;">834</div>
<div class="t" style="left:712.4px;top:576.87px;font-size:9.6px;font-weight:400;color:#1f1f29;-webkit-text-stroke:.16px currentColor;letter-spacing:0.011px;transform:scaleX(1.06);transform-origin:0 0;">347</div>
<div class="t" style="left:790.4px;top:576.87px;font-size:9.6px;font-weight:400;color:#1f1f29;-webkit-text-stroke:.16px currentColor;letter-spacing:0.011px;transform:scaleX(1.06);transform-origin:0 0;">720</div>
<div class="t" style="left:868.0px;top:576.87px;font-size:9.6px;font-weight:400;color:#1f1f29;-webkit-text-stroke:.16px currentColor;letter-spacing:0.011px;transform:scaleX(1.06);transform-origin:0 0;">925</div>
<div class="t" style="left:278.0px;top:621.87px;font-size:9.6px;font-weight:400;color:#1f1f29;-webkit-text-stroke:.32px currentColor;letter-spacing:0.153px;transform:scaleX(1.05);transform-origin:0 0;">Followers</div>
<div class="t" style="left:385.0px;top:616.09px;font-size:11px;font-weight:400;color:#1d1d26;-webkit-text-stroke:.32px currentColor;letter-spacing:0.654px;transform:scaleX(1.2);transform-origin:0 0;">604</div>
<div class="t" style="left:385.0px;top:631.38px;font-size:9px;font-weight:400;color:#1bc466;-webkit-text-stroke:.32px currentColor;letter-spacing:0.537px;">+ 8% vs. last period</div>
<div class="t" style="left:557.0px;top:621.87px;font-size:9.6px;font-weight:400;color:#1f1f29;-webkit-text-stroke:.16px currentColor;letter-spacing:0.011px;transform:scaleX(1.06);transform-origin:0 0;">504</div>
<div class="t" style="left:635.0px;top:621.87px;font-size:9.6px;font-weight:400;color:#1f1f29;-webkit-text-stroke:.16px currentColor;letter-spacing:0.011px;transform:scaleX(1.06);transform-origin:0 0;">766</div>
<div class="t" style="left:712.4px;top:621.87px;font-size:9.6px;font-weight:400;color:#1f1f29;-webkit-text-stroke:.16px currentColor;letter-spacing:0.011px;transform:scaleX(1.06);transform-origin:0 0;">991</div>
<div class="t" style="left:790.4px;top:621.87px;font-size:9.6px;font-weight:400;color:#1f1f29;-webkit-text-stroke:.16px currentColor;letter-spacing:0.011px;transform:scaleX(1.06);transform-origin:0 0;">916</div>
<div class="t" style="left:868.0px;top:621.87px;font-size:9.6px;font-weight:400;color:#1f1f29;-webkit-text-stroke:.16px currentColor;letter-spacing:0.011px;transform:scaleX(1.06);transform-origin:0 0;">327</div>
<div class="t" style="left:278.0px;top:666.87px;font-size:9.6px;font-weight:400;color:#1f1f29;-webkit-text-stroke:.32px currentColor;letter-spacing:0.268px;transform:scaleX(1.05);transform-origin:0 0;">New visitors</div>
<div class="t" style="left:385.0px;top:661.09px;font-size:11px;font-weight:400;color:#1d1d26;-webkit-text-stroke:.32px currentColor;letter-spacing:0.654px;transform:scaleX(1.2);transform-origin:0 0;">145</div>
<div class="t" style="left:385.0px;top:676.38px;font-size:9px;font-weight:400;color:#1bc466;-webkit-text-stroke:.32px currentColor;letter-spacing:0.460px;">+ 10% vs. last period</div>
<div class="t" style="left:557.0px;top:666.87px;font-size:9.6px;font-weight:400;color:#1f1f29;-webkit-text-stroke:.16px currentColor;letter-spacing:0.011px;transform:scaleX(1.06);transform-origin:0 0;">548</div>
<div class="t" style="left:635.0px;top:666.87px;font-size:9.6px;font-weight:400;color:#1f1f29;-webkit-text-stroke:.16px currentColor;letter-spacing:0.011px;transform:scaleX(1.06);transform-origin:0 0;">428</div>
<div class="t" style="left:712.4px;top:666.87px;font-size:9.6px;font-weight:400;color:#1f1f29;-webkit-text-stroke:.16px currentColor;letter-spacing:0.011px;transform:scaleX(1.06);transform-origin:0 0;">752</div>
<div class="t" style="left:790.4px;top:666.87px;font-size:9.6px;font-weight:400;color:#1f1f29;-webkit-text-stroke:.16px currentColor;letter-spacing:0.011px;transform:scaleX(1.06);transform-origin:0 0;">735</div>
<div class="t" style="left:868.0px;top:666.87px;font-size:9.6px;font-weight:400;color:#1f1f29;-webkit-text-stroke:.16px currentColor;letter-spacing:0.011px;transform:scaleX(1.06);transform-origin:0 0;">126</div>
</div>

</body>
</html>
